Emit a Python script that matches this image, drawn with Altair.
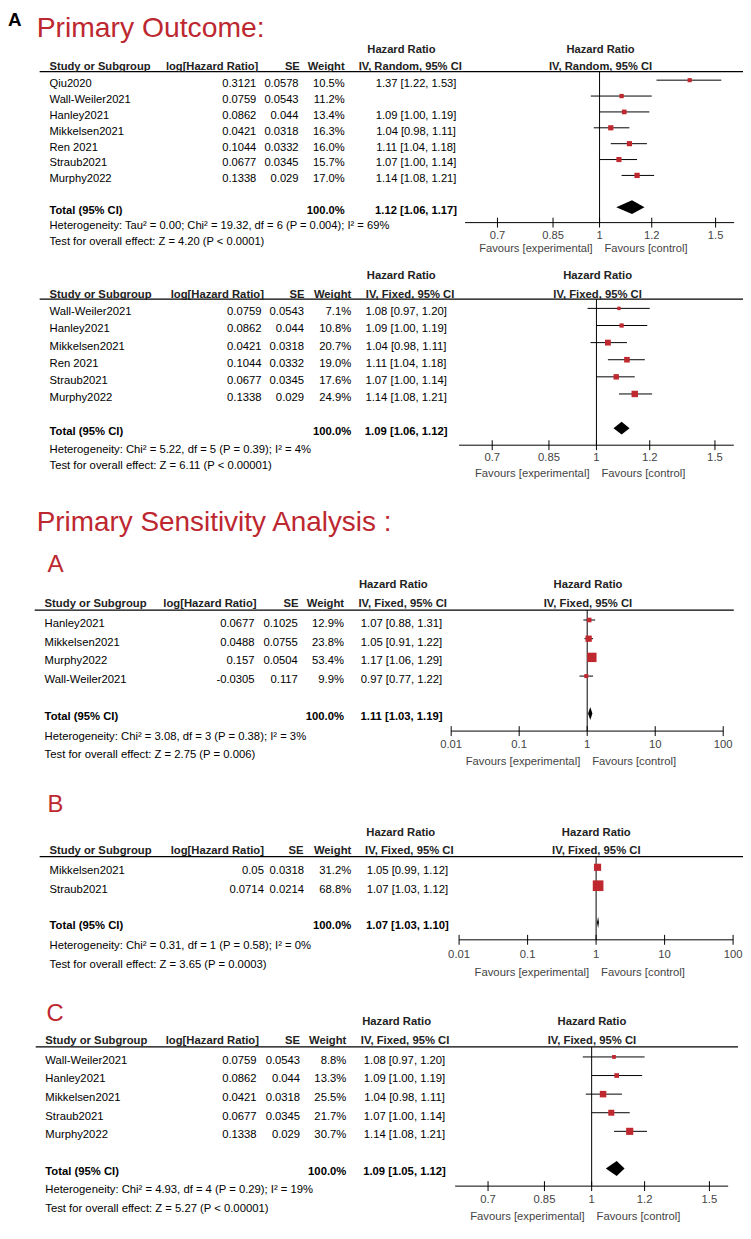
import altair as alt
import pandas as pd

# ---------------- data ----------------
# Primary outcome, random effects
p1_study = ["Qiu2020", "Wall-Weiler2021", "Hanley2021", "Mikkelsen2021", "Ren 2021", "Straub2021", "Murphy2022"]
p1_loghr = [0.3121, 0.0759, 0.0862, 0.0421, 0.1044, 0.0677, 0.1338]
p1_se = [0.0578, 0.0543, 0.044, 0.0318, 0.0332, 0.0345, 0.029]
p1_weight = [10.5, 11.2, 13.4, 16.3, 16.0, 15.7, 17.0]
p1_hr = [1.37, 1.08, 1.09, 1.04, 1.11, 1.07, 1.14]
p1_lo = [1.22, 0.97, 1.00, 0.98, 1.04, 1.00, 1.08]
p1_hi = [1.53, 1.20, 1.19, 1.11, 1.18, 1.14, 1.21]
p1_ci_shown = [True, False, True, True, True, True, True]
p1_total = [1.12, 1.06, 1.17]
p1_het = "Heterogeneity: Tau² = 0.00; Chi² = 19.32, df = 6 (P = 0.004); I² = 69%"
p1_test = "Test for overall effect: Z = 4.20 (P < 0.0001)"

# Primary outcome, fixed effects
p2_study = ["Wall-Weiler2021", "Hanley2021", "Mikkelsen2021", "Ren 2021", "Straub2021", "Murphy2022"]
p2_loghr = [0.0759, 0.0862, 0.0421, 0.1044, 0.0677, 0.1338]
p2_se = [0.0543, 0.044, 0.0318, 0.0332, 0.0345, 0.029]
p2_weight = [7.1, 10.8, 20.7, 19.0, 17.6, 24.9]
p2_hr = [1.08, 1.09, 1.04, 1.11, 1.07, 1.14]
p2_lo = [0.97, 1.00, 0.98, 1.04, 1.00, 1.08]
p2_hi = [1.20, 1.19, 1.11, 1.18, 1.14, 1.21]
p2_total = [1.09, 1.06, 1.12]
p2_het = "Heterogeneity: Chi² = 5.22, df = 5 (P = 0.39); I² = 4%"
p2_test = "Test for overall effect: Z = 6.11 (P < 0.00001)"

# Sensitivity A
pa_study = ["Hanley2021", "Mikkelsen2021", "Murphy2022", "Wall-Weiler2021"]
pa_loghr = [0.0677, 0.0488, 0.157, -0.0305]
pa_se = [0.1025, 0.0755, 0.0504, 0.117]
pa_weight = [12.9, 23.8, 53.4, 9.9]
pa_hr = [1.07, 1.05, 1.17, 0.97]
pa_lo = [0.88, 0.91, 1.06, 0.77]
pa_hi = [1.31, 1.22, 1.29, 1.22]
pa_total = [1.11, 1.03, 1.19]
pa_het = "Heterogeneity: Chi² = 3.08, df = 3 (P = 0.38); I² = 3%"
pa_test = "Test for overall effect: Z = 2.75 (P = 0.006)"

# Sensitivity B
pb_study = ["Mikkelsen2021", "Straub2021"]
pb_loghr = [0.05, 0.0714]
pb_se = [0.0318, 0.0214]
pb_weight = [31.2, 68.8]
pb_hr = [1.05, 1.07]
pb_lo = [0.99, 1.03]
pb_hi = [1.12, 1.12]
pb_total = [1.07, 1.03, 1.10]
pb_het = "Heterogeneity: Chi² = 0.31, df = 1 (P = 0.58); I² = 0%"
pb_test = "Test for overall effect: Z = 3.65 (P = 0.0003)"

# Sensitivity C
pc_study = ["Wall-Weiler2021", "Hanley2021", "Mikkelsen2021", "Straub2021", "Murphy2022"]
pc_loghr = [0.0759, 0.0862, 0.0421, 0.0677, 0.1338]
pc_se = [0.0543, 0.044, 0.0318, 0.0345, 0.029]
pc_weight = [8.8, 13.3, 25.5, 21.7, 30.7]
pc_hr = [1.08, 1.09, 1.04, 1.07, 1.14]
pc_lo = [0.97, 1.00, 0.98, 1.00, 1.08]
pc_hi = [1.20, 1.19, 1.11, 1.14, 1.21]
pc_total = [1.09, 1.05, 1.12]
pc_het = "Heterogeneity: Chi² = 4.93, df = 4 (P = 0.29); I² = 19%"
pc_test = "Test for overall effect: Z = 5.27 (P < 0.00001)"

lin_ticks = [0.7, 0.85, 1, 1.2, 1.5]
lin_labels = ["0.7", "0.85", "1", "1.2", "1.5"]
log_ticks = [0.01, 0.1, 1, 10, 100]
log_labels = ["0.01", "0.1", "1", "10", "100"]

# ---------------- styles ----------------
OFF = 8
FONT = "Liberation Sans, Arial, Helvetica, sans-serif"
RED = "#bd2730"
SQRED = "#c0282f"
HDR = "#222222"
GRAY = "#444444"
TXT_DY = 4
SQ = 1.69  # square area per weight percent


def T(text, x, y, size=11, bold=False, color="#000", align="left", baseline="middle"):
    return alt.Chart(pd.DataFrame({"t": [text]})).mark_text(
        align=align, baseline=baseline, fontSize=size,
        fontWeight="bold" if bold else "normal", color=color, font=FONT
    ).encode(text="t:N", x=alt.value(x - OFF), y=alt.value(y - OFF))


def HL(x0, x1, y, w=1.2):
    return alt.Chart(pd.DataFrame({"d": [0]})).mark_rule(color="#000", strokeWidth=w).encode(
        x=alt.value(x0 - OFF), x2=alt.value(x1 - OFF), y=alt.value(y - OFF))


def fmt(h, l, u):
    return f"{h:.2f} [{l:.2f}, {u:.2f}]"


def panel(c, study, loghr, se, weight, hr, lo, hi, total, het, test, ticks, labels,
          method="IV, Fixed, 95% CI", ci_shown=None):
    L = []
    fs = c["fs"]
    tr = c["tr"]
    ys = alt.Scale(domain=[0, tr], range=[c["y0"] - OFF, c["y0"] + tr * c["dy"] - OFF], nice=False, zero=False)
    xs = alt.Scale(type="log", domain=c["dom"], range=[c["x0"] - OFF, c["x1"] - OFF], nice=False)
    if ci_shown is None:
        ci_shown = [True] * len(study)
    df = pd.DataFrame({
        "row": list(range(len(study))),
        "study": study,
        "lhr": [str(v) for v in loghr],
        "se": [str(v) for v in se],
        "weight": weight,
        "wl": [f"{w:.1f}%" for w in weight],
        "hr": hr, "lo": lo, "hi": hi,
        "ci": [fmt(h, l, u) if s else "" for h, l, u, s in zip(hr, lo, hi, ci_shown)],
    })
    Y = alt.Y("row:Q", scale=ys, axis=None)
    base = alt.Chart(df)

    # header
    L.append(HL(c["lx0"], c["lx1"], c["line_y"]))
    L.append(T("Hazard Ratio", c["hr_x"], c["hdr_y"], fs, True, HDR, "center"))
    L.append(T("Hazard Ratio", c["f_x"], c["hdr_y"], fs, True, HDR, "center"))
    L.append(T("Study or Subgroup", c["c_st"], c["col_y"], fs, True, HDR))
    L.append(T("log[Hazard Ratio]", c["h_lhr"], c["col_y"], fs, True, HDR, "right"))
    L.append(T("SE", c["h_se"], c["col_y"], fs, True, HDR, "right"))
    L.append(T("Weight", c["h_w"], c["col_y"], fs, True, HDR, "right"))
    L.append(T(method, c["h_ci"], c["col_y"], fs, True, HDR, "center"))
    L.append(T(method, c["f_x"], c["col_y"], fs, True, HDR, "center"))

    # study rows
    for field, xp, al in [("study", c["c_st"], "left"), ("lhr", c["c_lhr"], "right"),
                          ("se", c["c_se"], "right"), ("wl", c["c_w"], "right"),
                          ("ci", c["c_ci"], "center")]:
        L.append(base.mark_text(align=al, baseline="middle", fontSize=fs, font=FONT,
                                color="#000", dy=TXT_DY).encode(
            text=f"{field}:N", x=alt.value(xp - OFF), y=Y))

    # total row
    tdf = pd.DataFrame({"row": [tr], "lab": ["Total (95% CI)"], "w": ["100.0%"],
                        "ci": [fmt(*total)]})
    for field, xp, al in [("lab", c["c_st"], "left"), ("w", c["c_w"], "right"),
                          ("ci", c["c_ci"], "center")]:
        L.append(alt.Chart(tdf).mark_text(align=al, baseline="middle", fontSize=fs, font=FONT,
                                          fontWeight="bold", color="#000", dy=TXT_DY).encode(
            text=f"{field}:N", x=alt.value(xp - OFF), y=Y))

    L.append(T(het, c["c_st"], c["het_y"], fs))
    L.append(T(test, c["c_st"], c["test_y"], fs))

    # forest plot
    one = pd.DataFrame({"v": [1.0]})
    L.append(alt.Chart(one).mark_rule(color="#000", strokeWidth=1).encode(
        x=alt.X("v:Q", scale=xs, axis=None),
        y=alt.value(c["line_y"] - OFF), y2=alt.value(c["axis_y"] - OFF)))
    L.append(base.mark_rule(color="#000", strokeWidth=1).encode(
        x=alt.X("lo:Q", scale=xs, axis=None), x2="hi:Q", y=Y))
    L.append(base.mark_square(color=SQRED, opacity=1).encode(
        x=alt.X("hr:Q", scale=xs, axis=None), y=Y,
        size=alt.Size("weight:Q", scale=alt.Scale(domain=[0, 100], range=[0, SQ * 100]), legend=None)))
    h = c["dh"] / c["dy"]
    ddf = pd.DataFrame({"x": [total[1], total[0], total[2]],
                        "yt": [tr, tr - h, tr], "yb": [tr, tr + h, tr]})
    L.append(alt.Chart(ddf).mark_area(color="#000", opacity=1).encode(
        x=alt.X("x:Q", scale=xs, axis=None),
        y=alt.Y("yt:Q", scale=ys, axis=None), y2="yb:Q"))

    # axis
    adf = pd.DataFrame({"a": [c["dom"][0]], "b": [c["dom"][1]]})
    L.append(alt.Chart(adf).mark_rule(color="#000", strokeWidth=1).encode(
        x=alt.X("a:Q", scale=xs, axis=None), x2="b:Q", y=alt.value(c["axis_y"] - OFF)))
    kdf = pd.DataFrame({"t": ticks, "lab": labels})
    L.append(alt.Chart(kdf).mark_rule(color="#000", strokeWidth=1).encode(
        x=alt.X("t:Q", scale=xs, axis=None),
        y=alt.value(c["axis_y"] - 5 - OFF), y2=alt.value(c["axis_y"] + 5 - OFF)))
    L.append(alt.Chart(kdf).mark_text(fontSize=fs, font=FONT, color=GRAY, baseline="middle").encode(
        x=alt.X("t:Q", scale=xs, axis=None), y=alt.value(c["lab_y"] - OFF), text="lab:N"))
    L.append(alt.Chart(one).mark_text(text="Favours [experimental]", align="right", dx=-7,
                                      fontSize=fs, font=FONT, color=GRAY, baseline="middle").encode(
        x=alt.X("v:Q", scale=xs, axis=None), y=alt.value(c["fav_y"] - OFF)))
    L.append(alt.Chart(one).mark_text(text="Favours [control]", align="left", dx=5,
                                      fontSize=fs, font=FONT, color=GRAY, baseline="middle").encode(
        x=alt.X("v:Q", scale=xs, axis=None), y=alt.value(c["fav_y"] - OFF)))
    return L


C1 = dict(fs=11.3, tr=8, y0=74.3, dy=16.05, dh=7, x0=470, x1=742, dom=[0.625, 1.6],
          hdr_y=44, col_y=61, line_y=65.7, lx0=40, lx1=751,
          axis_y=218.3, lab_y=232, fav_y=245, het_y=221.7, test_y=238,
          c_st=50, c_lhr=259, c_se=301.7, c_w=348.3, c_ci=420.5,
          h_lhr=261, h_se=303, h_w=348.3, h_ci=414.6, hr_x=405.7, f_x=607)
C2 = dict(fs=11.4, tr=7, y0=305, dy=17.3, dh=6.5, x0=464, x1=741.7, dom=[0.625, 1.6],
          hdr_y=272.7, col_y=291, line_y=295.7, lx0=40, lx1=751,
          axis_y=443.3, lab_y=456, fav_y=472.3, het_y=448.3, test_y=464.3,
          c_st=50, c_lhr=264.3, c_se=307.3, c_w=355, c_ci=410.5,
          h_lhr=266.7, h_se=307.7, h_w=355, h_ci=414.5, hr_x=405.5, f_x=604)
CA = dict(fs=11.4, tr=5, y0=620, dy=18.9, dh=6.5, x0=456, x1=731, dom=[0.01, 100],
          hdr_y=585, col_y=604, line_y=610, lx0=35, lx1=741.7,
          axis_y=732.3, lab_y=746.7, fav_y=763.3, het_y=738.3, test_y=756.7,
          c_st=45, c_lhr=257.3, c_se=301, c_w=347.7, c_ci=405.8,
          h_lhr=259.3, h_se=301.7, h_w=347.7, h_ci=407, hr_x=397.5, f_x=594.3)
CB = dict(fs=11.4, tr=3, y0=870, dy=18.6, dh=5.7, x0=464, x1=741, dom=[0.01, 100],
          hdr_y=835, col_y=854, line_y=859.3, lx0=40, lx1=751,
          axis_y=943.3, lab_y=959, fav_y=976.7, het_y=950, test_y=969,
          c_st=50, c_lhr=266.7, c_se=307.3, c_w=355, c_ci=411.7,
          h_lhr=266.7, h_se=306.7, h_w=355, h_ci=413.7, hr_x=405, f_x=602.7)
CC = dict(fs=11.4, tr=6, y0=1061.7, dy=18.8, dh=7.5, x0=460, x1=736, dom=[0.625, 1.6],
          hdr_y=1026.7, col_y=1045.7, line_y=1051.5, lx0=36, lx1=746,
          axis_y=1192.3, lab_y=1206.7, fav_y=1223.3, het_y=1196.7, test_y=1215.7,
          c_st=45.7, c_lhr=259.3, c_se=303.3, c_w=350, c_ci=408.8,
          h_lhr=261.7, h_se=303.3, h_w=350, h_ci=409.4, hr_x=400.8, f_x=598.3)

layers = []
# titles
layers.append(T("A", 8, 20, 19, True, "#000", "left", "alphabetic"))
layers.append(T("Primary Outcome:", 37, 31, 28.6, False, RED, "left", "alphabetic"))
layers.append(T("Primary Sensitivity Analysis :", 37, 530, 28.2, False, RED, "left", "alphabetic"))
layers.append(T("A", 48, 571, 24.5, False, RED, "left", "alphabetic"))
layers.append(T("B", 48, 814.3, 24, False, RED, "left", "alphabetic"))
layers.append(T("C", 47, 1025, 24, False, RED, "left", "alphabetic"))

layers += panel(C1, p1_study, p1_loghr, p1_se, p1_weight, p1_hr, p1_lo, p1_hi, p1_total,
                p1_het, p1_test, lin_ticks, lin_labels, "IV, Random, 95% CI", p1_ci_shown)
layers += panel(C2, p2_study, p2_loghr, p2_se, p2_weight, p2_hr, p2_lo, p2_hi, p2_total,
                p2_het, p2_test, lin_ticks, lin_labels)
layers += panel(CA, pa_study, pa_loghr, pa_se, pa_weight, pa_hr, pa_lo, pa_hi, pa_total,
                pa_het, pa_test, log_ticks, log_labels)
layers += panel(CB, pb_study, pb_loghr, pb_se, pb_weight, pb_hr, pb_lo, pb_hi, pb_total,
                pb_het, pb_test, log_ticks, log_labels)
layers += panel(CC, pc_study, pc_loghr, pc_se, pc_weight, pc_hr, pc_lo, pc_hi, pc_total,
                pc_het, pc_test, lin_ticks, lin_labels)

chart = alt.layer(*layers).resolve_scale(
    x="independent", y="independent", size="independent"
).properties(
    width=743, height=1223, padding=0, autosize=alt.AutoSizeParams(type="none")
).configure_view(stroke=None)

chart.save("out.html", embed_options={"renderer": "svg", "actions": False})
